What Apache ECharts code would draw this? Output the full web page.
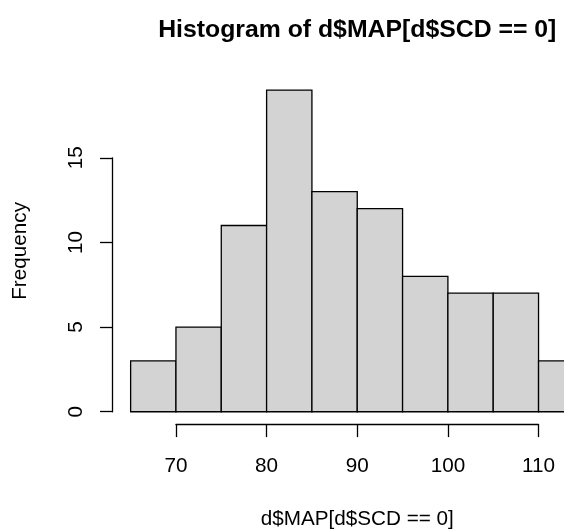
<!DOCTYPE html>
<html><head><meta charset="utf-8">
<script src="https://cdn.jsdelivr.net/npm/echarts@6/dist/echarts.min.js"></script>
<style>html,body{margin:0;padding:0;background:#fff}#c{width:564px;height:529px}</style>
</head><body><div id="c"></div>
<script>
const breaks = [65,70,75,80,85,90,95,100,105,110,115];
const counts = [3,5,11,19,13,12,8,7,7,3];
const xTicks = [70,80,90,100,110];
const yTicks = [0,5,10,15];
const mainTitle = 'Histogram of d$MAP[d$SCD == 0]';
const xLabel = 'd$MAP[d$SCD == 0]';
const yLabel = 'Frequency';

const FONT = '"Liberation Sans", Arial, Helvetica, sans-serif';
const FS = 20.7;
// plot region and R-style 4% extended user ranges
const PL = 112.5, PR = 602, PT = 77.2, PB = 424.6;
const xr = [breaks[0], breaks[breaks.length-1]];
const ymax = Math.max(...counts);
const xlim = [xr[0] - 0.04*(xr[1]-xr[0]), xr[1] + 0.04*(xr[1]-xr[0])];
const ylim = [-0.04*ymax, ymax*1.04];
const sx = v => PL + (v - xlim[0])/(xlim[1]-xlim[0])*(PR-PL);
const sy = v => PB - (v - ylim[0])/(ylim[1]-ylim[0])*(PB-PT);
const xt0 = xTicks[0], xt1 = xTicks[xTicks.length-1];
const yt0 = yTicks[0], yt1 = yTicks[yTicks.length-1];

const lineSt = {color:'#000', width:1.3};
const chart = echarts.init(document.getElementById('c'), null, {renderer:'canvas'});
chart.setOption({
  animation:false,
  backgroundColor:'#fff',
  title:{text:mainTitle, left:(PL+PR)/2, textAlign:'center', top:18, padding:0,
    textStyle:{fontSize:24.8, fontWeight:'bold', color:'#000', fontFamily:FONT}},
  grid:[
    {left:PL, top:PT, width:PR-PL, height:PB-PT, outerBoundsMode:'none', containLabel:false},
    {left:sx(xt0), top:PT, width:sx(xt1)-sx(xt0), height:PB-PT, outerBoundsMode:'none', containLabel:false},
    {left:PL, top:sy(yt1), width:50, height:sy(yt0)-sy(yt1), outerBoundsMode:'none', containLabel:false}
  ],
  xAxis:[
    {gridIndex:0, type:'value', min:xlim[0], max:xlim[1],
      axisLine:{show:false}, axisTick:{show:false}, axisLabel:{show:false}, splitLine:{show:false},
      name:xLabel, nameLocation:'middle', nameGap:84,
      nameTextStyle:{fontSize:FS, color:'#000', fontFamily:FONT}},
    {gridIndex:1, type:'value', min:xt0, max:xt1, interval:xTicks[1]-xTicks[0],
      axisLine:{show:true, lineStyle:lineSt},
      axisTick:{show:true, length:12.5, lineStyle:lineSt},
      axisLabel:{show:true, fontSize:FS, color:'#000', fontFamily:FONT, margin:31},
      splitLine:{show:false}},
    {gridIndex:2, type:'value', show:false, min:0, max:1}
  ],
  yAxis:[
    {gridIndex:0, type:'value', min:ylim[0], max:ylim[1],
      axisLine:{show:false}, axisTick:{show:false}, axisLabel:{show:false}, splitLine:{show:false},
      name:yLabel, nameLocation:'middle', nameGap:82,
      nameTextStyle:{fontSize:FS, color:'#000', fontFamily:FONT}},
    {gridIndex:1, type:'value', show:false, min:0, max:1},
    {gridIndex:2, type:'value', min:yt0, max:yt1, interval:yTicks[1]-yTicks[0],
      axisLine:{show:true, lineStyle:lineSt},
      axisTick:{show:true, length:12.5, lineStyle:lineSt},
      axisLabel:{show:true, rotate:90, fontSize:FS, color:'#000', fontFamily:FONT, margin:26},
      splitLine:{show:false}}
  ],
  series:[{
    type:'custom', xAxisIndex:0, yAxisIndex:0, clip:false,
    data: counts.map((c,i)=>[breaks[i], breaks[i+1], c]),
    encode:{x:[0,1], y:2},
    renderItem:(params, api)=>{
      const p0 = api.coord([api.value(0), 0]);
      const p1 = api.coord([api.value(1), api.value(2)]);
      return {type:'rect', shape:{x:p0[0], y:p1[1], width:p1[0]-p0[0], height:p0[1]-p1[1]},
        style:{fill:'#d3d3d3', stroke:'#000', lineWidth:1.3}};
    }
  }]
});
</script></body></html>
